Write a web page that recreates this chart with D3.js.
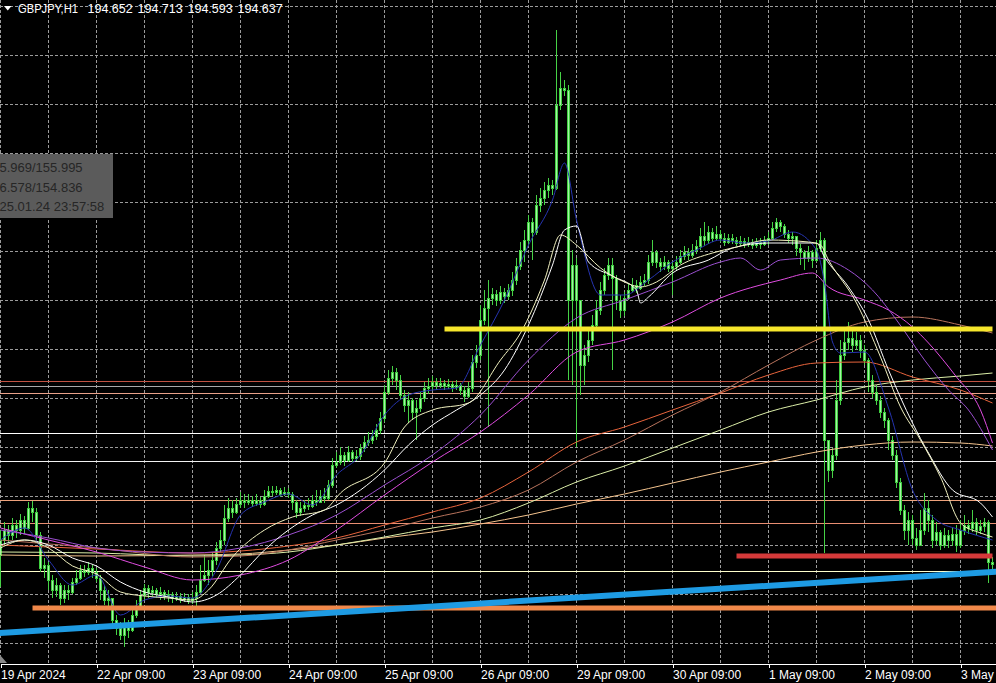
<!DOCTYPE html>
<html>
<head>
<meta charset="utf-8">
<script src="https://cdn.jsdelivr.net/npm/d3@7.9.0/dist/d3.min.js"></script>
<style>
  html, body { margin: 0; padding: 0; background: #000; overflow: hidden; }
  svg { display: block; }
  text { font-family: "Liberation Sans", Arial, sans-serif; }
</style>
</head>
<body>
<svg id="chart" width="996" height="683"></svg>
<script>
// ---- data: GBPJPY H1, 19 Apr 2024 09:00 .. 3 May 2024 17:00 (bar index 0..248)
const symbol = 'GBPJPY,H1';
const firstOpen = 194.73;

const closes = [
  194.88,194.98,194.93,195.03,194.98,195.08,195.00,195.20,195.16,194.93,194.60,194.63,
  194.48,194.38,194.43,194.30,194.38,194.36,194.46,194.50,194.58,194.56,194.60,194.56,
  194.50,194.38,194.28,194.30,194.08,194.00,193.93,194.03,193.98,194.13,194.20,194.33,
  194.40,194.36,194.38,194.34,194.36,194.32,194.34,194.30,194.32,194.29,194.31,194.28,
  194.30,194.36,194.48,194.53,194.58,194.68,194.80,194.88,195.10,195.20,195.16,195.24,
  195.28,195.26,195.28,195.25,195.28,195.24,195.32,195.37,195.36,195.38,195.34,195.36,
  195.34,195.26,195.16,195.20,195.23,195.22,195.28,195.26,195.32,195.30,195.43,195.63,
  195.66,195.73,195.68,195.76,195.70,195.72,195.80,195.86,195.88,195.92,195.98,196.10,
  196.36,196.50,196.56,196.48,196.33,196.23,196.28,196.16,196.20,196.30,196.40,196.42,
  196.46,196.43,196.45,196.42,196.44,196.41,196.43,196.38,196.32,196.40,196.66,196.73,
  197.08,197.20,197.30,197.34,197.28,197.36,197.32,197.38,197.48,197.62,197.78,197.88,
  198.06,197.96,198.23,198.30,198.38,198.43,198.40,199.23,199.40,199.38,197.28,197.63,
  197.28,196.63,196.73,196.88,197.03,197.18,197.38,197.53,197.63,197.50,197.28,197.18,
  197.30,197.38,197.43,197.40,197.46,197.48,197.66,197.76,197.66,197.62,197.66,197.60,
  197.62,197.66,197.72,197.76,197.73,197.78,197.82,197.92,197.88,197.96,197.90,197.94,
  197.90,197.86,197.90,197.88,197.85,197.87,197.84,197.86,197.83,197.86,197.84,197.88,
  197.90,198.00,198.06,198.02,197.94,197.90,197.92,197.80,197.76,197.70,197.76,197.68,
  197.80,197.88,195.88,195.58,195.73,196.28,196.73,196.86,196.90,196.83,196.88,196.78,
  196.68,196.48,196.36,196.28,196.16,196.08,195.88,195.73,195.46,195.18,194.98,195.08,
  194.90,194.83,194.98,195.20,195.08,194.88,194.96,194.83,194.93,194.88,194.94,194.83,
  194.98,195.03,195.00,195.06,194.98,195.02,195.06,194.652,194.637
];

const highs = [
  194.98,195.06,195.03,195.10,195.08,195.14,195.12,195.26,195.27,195.20,194.96,194.70,
  194.66,194.53,194.50,194.45,194.43,194.43,194.50,194.58,194.63,194.63,194.66,194.63,
  194.60,194.53,194.43,194.38,194.30,194.13,194.06,194.10,194.08,194.20,194.28,194.38,
  194.44,194.43,194.42,194.40,194.41,194.38,194.38,194.36,194.36,194.35,194.35,194.34,
  194.36,194.43,194.63,194.73,194.68,194.76,194.86,194.98,195.23,195.30,195.28,195.30,
  195.36,195.34,195.34,195.32,195.34,195.31,195.38,195.42,195.42,195.42,195.40,195.41,
  195.40,195.36,195.28,195.26,195.28,195.30,195.33,195.38,195.38,195.40,195.48,195.70,
  195.76,195.81,195.76,195.82,195.78,195.78,195.84,195.92,195.96,195.98,196.04,196.16,
  196.43,196.58,196.62,196.60,196.53,196.38,196.36,196.30,196.28,196.36,196.46,196.50,
  196.52,196.50,196.50,196.48,196.49,196.47,196.48,196.45,196.42,196.46,196.73,196.83,
  197.23,197.38,197.48,197.40,197.38,197.42,197.40,197.44,197.56,197.70,197.86,197.98,
  198.13,198.10,198.33,198.40,198.46,198.50,198.48,199.98,199.56,199.48,199.43,197.78,
  197.70,197.28,196.83,196.98,197.13,197.28,197.46,197.60,197.70,197.70,197.53,197.33,
  197.36,197.45,197.50,197.48,197.52,197.54,197.73,197.88,197.78,197.70,197.72,197.68,
  197.66,197.72,197.78,197.82,197.80,197.84,197.88,198.00,198.06,198.02,198.00,198.02,
  197.98,197.95,197.94,197.94,197.91,197.92,197.90,197.91,197.89,197.90,197.90,197.92,
  197.96,198.06,198.10,198.08,198.04,197.98,197.96,197.92,197.84,197.78,197.82,197.78,
  197.88,197.96,197.90,195.88,195.80,196.48,196.88,197.00,197.06,196.98,196.96,196.93,
  196.83,196.70,196.53,196.43,196.32,196.20,196.10,195.92,195.78,195.50,195.23,195.16,
  195.13,195.00,195.18,195.35,195.28,195.13,195.06,194.98,195.00,194.98,195.00,195.03,
  195.08,195.13,195.08,195.18,195.10,195.08,195.10,195.08,194.713
];

const lows = [
  194.41,194.83,194.86,194.88,194.90,194.93,194.94,194.98,195.06,194.88,194.56,194.50,
  194.38,194.30,194.31,194.23,194.25,194.28,194.34,194.43,194.48,194.51,194.53,194.50,
  194.46,194.28,194.23,194.20,194.03,193.93,193.88,193.81,193.90,193.96,194.10,194.18,
  194.28,194.30,194.32,194.30,194.28,194.28,194.26,194.25,194.27,194.25,194.26,194.24,
  194.24,194.22,194.34,194.46,194.43,194.52,194.63,194.76,194.83,195.06,195.10,195.14,
  195.20,195.20,195.23,195.21,195.22,195.20,195.22,195.30,195.32,195.33,195.31,195.32,
  195.30,195.18,195.10,195.12,195.16,195.18,195.20,195.22,195.26,195.25,195.28,195.40,
  195.60,195.63,195.62,195.66,195.66,195.67,195.68,195.76,195.82,195.84,195.88,195.94,
  196.06,196.33,196.43,196.38,196.28,196.16,196.05,196.08,195.88,196.16,196.26,196.34,
  196.38,196.38,196.40,196.38,196.39,196.36,196.38,196.33,196.26,196.30,196.36,196.60,
  196.68,197.03,196.01,197.23,197.22,197.24,197.25,197.28,197.32,197.43,197.58,197.66,
  197.82,197.68,197.93,198.16,198.23,198.30,198.33,198.38,199.18,199.32,196.48,196.43,
  195.81,196.33,196.43,196.66,196.83,196.98,197.13,197.33,197.48,196.58,197.18,197.10,
  197.12,197.28,197.36,197.35,197.38,197.42,197.44,197.62,197.60,197.56,197.58,197.56,
  197.33,197.58,197.64,197.68,197.68,197.70,197.74,197.78,197.82,197.84,197.86,197.88,
  197.86,197.82,197.84,197.84,197.82,197.82,197.80,197.81,197.79,197.80,197.79,197.82,
  197.83,197.88,197.96,197.96,197.90,197.85,197.83,197.72,197.63,197.58,197.66,197.60,
  197.66,197.76,194.75,195.46,195.50,195.68,196.23,196.68,196.78,196.76,196.78,196.70,
  196.63,196.36,196.30,196.23,196.10,196.00,195.78,195.68,195.40,195.13,194.88,194.83,
  194.83,194.78,194.82,194.93,194.96,194.80,194.83,194.78,194.80,194.80,194.82,194.76,
  194.80,194.93,194.94,194.96,194.93,194.94,194.96,194.45,194.593
];

// moving averages (bar index -> price)
const maBlueBars = [0,6,12,18,24,30,36,42,48,54,60,66,72,78,84,90,96,102,108,114,120,126,132,138,141,144,150,156,162,168,174,180,186,192,198,204,206,208,210,216,222,228,234,240,248];
const maBlue = [194.88,195.00,194.68,194.43,194.53,194.13,194.28,194.32,194.30,194.58,195.13,195.26,195.34,195.23,195.53,195.73,196.13,196.33,196.38,196.40,196.83,197.28,197.83,198.28,198.65,198.08,197.33,197.33,197.48,197.66,197.78,197.88,197.85,197.87,197.96,197.78,197.45,196.86,196.75,196.76,196.20,195.38,195.08,194.98,194.88];

const maPaleBars = [0,6,12,18,24,30,36,42,48,52,58,66,73,81,85,96,101,108,117,125,130,136,140,144,150,156,160,164,170,178,184,192,202,205,207,214,220,225,230,235,240,245,248];
const maPale = [194.80,194.88,194.80,194.62,194.54,194.36,194.32,194.30,194.28,194.38,194.71,194.98,195.11,195.18,195.35,195.65,196.01,196.18,196.25,196.68,196.95,197.48,197.93,197.83,197.60,197.46,197.41,197.46,197.63,197.75,197.81,197.88,197.86,197.83,197.68,197.25,196.71,196.21,195.88,195.51,195.05,194.95,194.91];

const maWhiteBars = [0,6,12,18,24,30,36,42,48,54,60,66,72,78,84,90,96,102,108,114,120,126,132,138,141,144,147,153,159,160,162,168,177,183,192,204,206,212,217,222,228,232,238,245,248];
const maWhite = [194.83,194.88,194.83,194.70,194.62,194.46,194.36,194.31,194.26,194.33,194.53,194.78,194.98,195.13,195.23,195.38,195.58,195.83,196.03,196.18,196.33,196.58,197.03,197.63,197.98,198.02,197.66,197.52,197.38,197.25,197.31,197.55,197.68,197.80,197.85,197.85,197.71,197.41,197.08,196.58,196.05,195.75,195.38,195.25,195.11];

const maVioletBars = [0,12,24,36,48,60,72,84,96,108,120,132,144,156,168,180,185,190,195,204,212,218,224,231,237,242,248];
const maViolet = [194.98,194.90,194.80,194.76,194.75,194.80,194.93,195.13,195.43,195.73,196.13,196.68,197.10,197.28,197.46,197.66,197.70,197.58,197.68,197.70,197.58,197.38,197.08,196.68,196.38,196.18,195.78];

const maMagentaBars = [0,12,24,36,48,60,72,84,96,108,120,132,144,156,168,180,195,203,207,216,222,228,232,239,245,248];
const maMagenta = [195.00,194.88,194.76,194.61,194.48,194.53,194.68,194.98,195.33,195.66,195.96,196.33,196.76,196.88,197.06,197.30,197.48,197.55,197.41,197.28,197.18,197.01,196.85,196.51,196.18,195.85];

const slowBars = [0,24,48,60,72,84,96,108,120,132,144,156,168,180,192,204,216,228,240,248];
const maOrangeRed = [194.83,194.79,194.75,194.77,194.82,194.90,195.03,195.16,195.30,195.56,195.86,196.01,196.18,196.35,196.53,196.65,196.66,196.51,196.38,196.25];
const maBrown = [194.88,194.80,194.71,194.72,194.78,194.88,194.98,195.10,195.21,195.38,195.66,195.88,196.13,196.36,196.63,196.88,197.06,197.11,197.03,196.95];
const maPaleGreen = [194.76,194.75,194.72,194.73,194.76,194.83,194.91,195.00,195.08,195.25,195.46,195.62,195.80,195.98,196.16,196.28,196.41,196.48,196.52,196.55];
const maPeach = [194.73,194.72,194.73,194.74,194.78,194.83,194.90,194.96,195.04,195.13,195.24,195.34,195.45,195.56,195.66,195.76,195.83,195.86,195.85,195.82];

// horizontal levels and drawn objects
const levelPrices = [196.47, 196.42, 196.35, 195.95, 195.67, 195.28, 195.05, 194.57];
const yellowLevel = { price: 196.99, from: 111, to: 248 };
const redLevel = { price: 194.72, from: 184, to: 248 };
const orangeLevel = { price: 194.20, from: 8, to: 249.5 };
const trendBars = [0, 248];
const trendPrices = [193.95, 194.56];

// time axis
const tickBars = [0, 24, 48, 72, 96, 120, 144, 168, 192, 216, 240];
const tickLabels = ['19 Apr 2024', '22 Apr 09:00', '23 Apr 09:00', '24 Apr 09:00', '25 Apr 09:00',
  '26 Apr 09:00', '29 Apr 09:00', '30 Apr 09:00', '1 May 09:00', '2 May 09:00', '3 May 09:00'];

const infoLines = ['155.969/155.995', '156.578/154.836', '2025.01.24 23:57:58'];

// ---- styles
const levelColors = ['#c25242', '#a9a9a9', '#eaa28a', '#ffffff', '#f2f2f2', '#eea27c', '#e98e72', '#ffffcc'];

// ---- scales
const width = 996, plotH = 663;
const x = d3.scaleLinear().domain([0, 249]).range([0.5, 996.5]);
const y = d3.scaleLinear().domain([193.65, 200.28]).range([plotH, 0]);

const svg = d3.select('#chart');
svg.append('rect').attr('width', 996).attr('height', 683).attr('fill', '#000');

svg.append('clipPath').attr('id', 'plot-clip')
  .append('rect').attr('width', width).attr('height', plotH);

const plot = svg.append('g').attr('clip-path', 'url(#plot-clip)');

// grid
const gridPrices = d3.range(0, 14).map(k => 200.22 - 0.49 * k);
const gridBars = d3.range(0, 252, 12);

const grid = plot.append('g')
  .attr('stroke', '#9b9b9b')
  .attr('stroke-width', 1)
  .attr('stroke-dasharray', '3,2')
  .attr('shape-rendering', 'crispEdges');

grid.selectAll('line.h')
  .data(gridPrices)
  .join('line')
  .attr('class', 'h')
  .attr('x1', 0).attr('x2', width)
  .attr('y1', d => Math.round(y(d)) + 0.5)
  .attr('y2', d => Math.round(y(d)) + 0.5);

grid.selectAll('line.v')
  .data(gridBars)
  .join('line')
  .attr('class', 'v')
  .attr('x1', d => x(d)).attr('x2', d => x(d))
  .attr('y1', 0).attr('y2', plotH);

// thin horizontal levels
plot.append('g')
  .attr('shape-rendering', 'crispEdges')
  .selectAll('line')
  .data(levelPrices)
  .join('line')
  .attr('x1', 0).attr('x2', width)
  .attr('y1', d => Math.round(y(d)) + 0.5)
  .attr('y2', d => Math.round(y(d)) + 0.5)
  .attr('stroke', (d, i) => levelColors[i])
  .attr('stroke-width', 1);

// candles
const bars = closes.map((c, i) => {
  const o = i === 0 ? firstOpen : closes[i - 1];
  return { i, o, c, h: Math.max(highs[i], o, c), l: Math.min(lows[i], o, c) };
});

const candles = plot.append('g').attr('shape-rendering', 'crispEdges');

candles.selectAll('line')
  .data(bars)
  .join('line')
  .attr('x1', d => x(d.i)).attr('x2', d => x(d.i))
  .attr('y1', d => y(d.h)).attr('y2', d => y(d.l))
  .attr('stroke', '#46d246')
  .attr('stroke-width', 1);

candles.selectAll('rect')
  .data(bars)
  .join('rect')
  .attr('x', d => x(d.i) - 1)
  .attr('width', 2)
  .attr('y', d => y(Math.max(d.o, d.c)))
  .attr('height', d => Math.max(1, y(Math.min(d.o, d.c)) - y(Math.max(d.o, d.c))))
  .attr('fill', '#a6f3a6')
  .attr('stroke', '#3fcf3f')
  .attr('stroke-width', 1);

// moving averages
const maLine = d3.line()
  .x(d => x(d[0]))
  .y(d => y(d[1]))
  .curve(d3.curveMonotoneX);

const maSeries = [
  { bars: slowBars, values: maPeach, color: '#f5c48e' },
  { bars: slowBars, values: maPaleGreen, color: '#dcefa8' },
  { bars: slowBars, values: maBrown, color: '#b8735c' },
  { bars: slowBars, values: maOrangeRed, color: '#e8643c' },
  { bars: maMagentaBars, values: maMagenta, color: '#e04ce0' },
  { bars: maVioletBars, values: maViolet, color: '#9b4fd0' },
  { bars: maBlueBars, values: maBlue, color: '#2634b0' },
  { bars: maWhiteBars, values: maWhite, color: '#ffffff' },
  { bars: maPaleBars, values: maPale, color: '#f2f2c0' }
];

plot.append('g')
  .selectAll('path')
  .data(maSeries)
  .join('path')
  .attr('d', s => maLine(s.bars.map((b, k) => [b, s.values[k]])))
  .attr('fill', 'none')
  .attr('stroke', s => s.color)
  .attr('stroke-width', 1);

// drawn objects
const objects = plot.append('g').attr('stroke-linecap', 'butt');

[
  { lvl: orangeLevel, color: '#f0884a' },
  { lvl: redLevel, color: '#d43a3a' },
  { lvl: yellowLevel, color: '#f6e62c' }
].forEach(o => {
  objects.append('line')
    .attr('x1', x(o.lvl.from)).attr('x2', x(o.lvl.to))
    .attr('y1', y(o.lvl.price)).attr('y2', y(o.lvl.price))
    .attr('stroke', o.color)
    .attr('stroke-width', 5);
});

// trend line, extended as a ray to the right edge
const slope = (trendPrices[1] - trendPrices[0]) / (trendBars[1] - trendBars[0]);
const rayEnd = 249.5;
objects.append('line')
  .attr('x1', x(trendBars[0] - 0.5))
  .attr('y1', y(trendPrices[0] - 0.5 * slope))
  .attr('x2', x(rayEnd))
  .attr('y2', y(trendPrices[0] + (rayEnd - trendBars[0]) * slope))
  .attr('stroke', '#1e9be3')
  .attr('stroke-width', 6);

// info box (cut at the left edge)
const info = svg.append('g');
info.append('rect')
  .attr('x', 0).attr('y', 154)
  .attr('width', 113).attr('height', 64)
  .attr('fill', '#5b5b5b');
info.selectAll('text')
  .data(infoLines)
  .join('text')
  .attr('x', -15)
  .attr('y', (d, i) => 172 + i * 19.5)
  .attr('fill', '#262626')
  .attr('font-size', 13)
  .text(d => d);

// header
const last = bars[bars.length - 1];
svg.append('path')
  .attr('d', 'M4,6 L11.5,6 L7.75,10.5 Z')
  .attr('fill', '#ffffff');
svg.append('text')
  .attr('x', 18).attr('y', 13)
  .attr('fill', '#ffffff')
  .attr('font-size', 12.5)
  .attr('textLength', 60)
  .attr('lengthAdjust', 'spacingAndGlyphs')
  .text(symbol);
svg.selectAll('text.ohlc')
  .data([last.o, last.h, last.l, last.c])
  .join('text')
  .attr('class', 'ohlc')
  .attr('x', (d, i) => 87.5 + i * 50)
  .attr('y', 13)
  .attr('fill', '#ffffff')
  .attr('font-size', 12.5)
  .text(d => d.toFixed(3));

// time axis
const xAxis = d3.axisBottom(x)
  .tickValues(tickBars)
  .tickFormat((d, i) => tickLabels[i])
  .tickSize(4)
  .tickSizeOuter(0);

const axisG = svg.append('g')
  .attr('transform', `translate(0,${plotH + 0.5})`)
  .call(xAxis);

axisG.select('.domain').attr('stroke', '#ffffff').attr('shape-rendering', 'crispEdges');
axisG.selectAll('.tick line').attr('stroke', '#ffffff').attr('shape-rendering', 'crispEdges');
axisG.selectAll('.tick text')
  .attr('text-anchor', 'start')
  .attr('dx', 0)
  .attr('fill', '#ffffff')
  .attr('font-size', 12)
  .attr('font-family', '"Liberation Sans", Arial, sans-serif');

// chart shift marker
svg.append('path')
  .attr('d', 'M0,655 L0,663 L7,663 Z')
  .attr('fill', '#8a8a8a');
</script>
</body>
</html>
